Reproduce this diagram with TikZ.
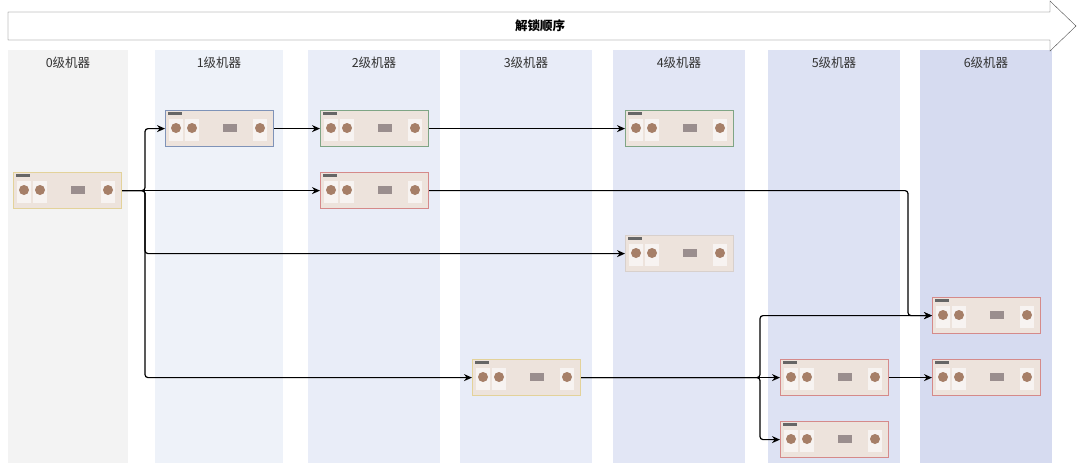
\documentclass[tikz,border=0pt]{standalone}
\usepackage{fontspec}
\setmainfont{Noto Sans CJK SC}
\usetikzlibrary{positioning}
\usetikzlibrary{arrows.meta}
\definecolor{colzero}{HTML}{F3F3F3}
\definecolor{colone}{HTML}{EEF2F9}
\definecolor{coltwo}{HTML}{E9EDF8}
\definecolor{colthree}{HTML}{E8ECF8}
\definecolor{colfour}{HTML}{E2E6F5}
\definecolor{colfive}{HTML}{DDE2F3}
\definecolor{colsix}{HTML}{D6DBF0}
\definecolor{cardfill}{HTML}{EDE3DC}
\definecolor{bdyellow}{HTML}{E3D29A}
\definecolor{bdblue}{HTML}{7F93B8}
\definecolor{bdgreen}{HTML}{7FA585}
\definecolor{bdred}{HTML}{D58A8A}
\definecolor{bdgray}{HTML}{D8D0CC}
\definecolor{itemcol}{HTML}{A67F68}
\definecolor{btncol}{HTML}{9A8E8E}
\def\cardw{108}
\def\cardh{36}
% one recipe card: name, left, top, border colour
\newcommand{\recipecard}[4]{%
  \node [card, draw=#4, anchor=north west] (#1) at (#2, #3) {};
  \foreach \k in {0, 1} {
    \fill [white, opacity=0.6] ([shift={(4+\k*16, 9)}]#1.north west) rectangle ++(14, 22);
    \fill [itemcol] ([shift={(11+\k*16, 18)}]#1.north west) circle (5);
  }
  \fill [white, opacity=0.6] ([shift={(88, 9)}]#1.north west) rectangle ++(14, 22);
  \fill [itemcol] ([shift={(95, 18)}]#1.north west) circle (5);
  \fill [btncol] ([shift={(58, 14)}]#1.north west) rectangle ++(14, 8);
  \fill [black!60] ([shift={(3, 2)}]#1.north west) rectangle ++(14, 3);
}
\begin{document}
\begin{tikzpicture}[x=1pt, y=-1pt,
    card/.style={fill=cardfill, line width=1.2pt, minimum width=\cardw pt, minimum height=\cardh pt, inner sep=0pt},
    link/.style={line width=1.2pt, -{Stealth[length=8pt, width=7pt]}, rounded corners=3pt},
    header/.style={font=\fontsize{12.5}{14}\selectfont, text=black!80}]
  \useasboundingbox (0, 0) rectangle (1080, 463);

  % columns
  \foreach \xl/\xr/\c/\t in {8/128/colzero/0, 155/283/colone/1, 308/440/coltwo/2, 460/592/colthree/3,
      613/745/colfour/4, 768/900/colfive/5, 920/1052/colsix/6} {
    \fill [\c] (\xl, 50) rectangle (\xr, 463);
    \node [header] (head\t) at ({(\xl+\xr)/2}, 63) {\t 级机器};
  }

  % banner arrow
  \draw [black!70, fill=white] (8, 12) -- (1050, 12) -- (1050, 1) -- (1076, 26) -- (1050, 51)
    -- (1050, 40) -- (8, 40) -- cycle;
  \node [font=\bfseries\fontsize{12.5}{14}\selectfont] (banner) at (540, 26) {解锁顺序};

  % cards
  \recipecard{mza}{13}{172}{bdyellow}
  \recipecard{mzb}{165}{110}{bdblue}
  \recipecard{mzc}{320}{110}{bdgreen}
  \recipecard{mzd}{320}{172}{bdred}
  \recipecard{mze}{625}{110}{bdgreen}
  \recipecard{mzf}{625}{235}{bdgray}
  \recipecard{mzg}{472}{359}{bdyellow}
  \recipecard{mzh}{780}{359}{bdred}
  \recipecard{mzi}{780}{421}{bdred}
  \recipecard{mzj}{932}{297}{bdred}
  \recipecard{mzk}{932}{359}{bdred}

  % connectors
  \coordinate (split) at (145, 0);
  \coordinate (fork) at (760, 0);
  \coordinate (drop) at (908, 0);
  \draw [link] (mza.east) -- (split |- mza.east) |- (mzb.west);
  \draw [link] (mza.east) -- (mzd.west);
  \draw [link] (mza.east) -- (split |- mza.east) |- (mzf.west);
  \draw [link] (mza.east) -- (split |- mza.east) |- (mzg.west);
  \draw [link] (mzb.east) -- (mzc.west);
  \draw [link] (mzc.east) -- (mze.west);
  \draw [link] (mzd.east) -- (drop |- mzd.east) |- (mzj.west);
  \draw [link] (mzg.east) -- (mzh.west);
  \draw [link] (mzg.east) -- (fork |- mzg.east) |- (mzj.west);
  \draw [link] (mzg.east) -- (fork |- mzg.east) |- (mzi.west);
  \draw [link] (mzh.east) -- (mzk.west);
\end{tikzpicture}
\end{document}
